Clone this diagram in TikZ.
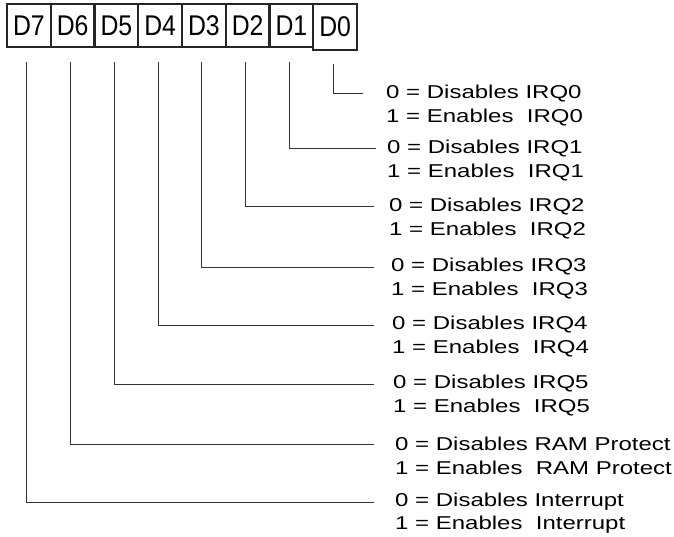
\documentclass[tikz,border=0pt]{standalone}
\usepackage{fontspec}
\setmainfont{Liberation Sans}
\newfontfamily\lblfont[FakeStretch=1.29]{Liberation Sans}
\newfontfamily\bitfont[FakeStretch=0.87]{Liberation Sans}
\usetikzlibrary{positioning}

\begin{document}
\begin{tikzpicture}[
  x=1pt, y=-1pt,
  bitbox/.style = {rectangle, draw=black!85, line width=2.4pt, inner sep=0pt, outer sep=0pt,
    minimum width=43.75pt, minimum height=43pt, font=\bitfont\fontsize{28.5}{28.5}\selectfont},
  lbl/.style    = {anchor=west, inner sep=0pt, font=\lblfont\fontsize{18.6}{22}\selectfont},
  wire/.style   = {draw=black!80, line width=1pt},
]
  \useasboundingbox (0,0) rectangle (674,537);

  % register bits
  \node[bitbox] (d7) at (28.9,25.5) {D7};
  \node[bitbox, right=0pt of d7] (d6) {D6};
  \node[bitbox, right=0pt of d6] (d5) {D5};
  \node[bitbox, right=0pt of d5] (d4) {D4};
  \node[bitbox, right=0pt of d4] (d3) {D3};
  \node[bitbox, right=0pt of d3] (d2) {D2};
  \node[bitbox, right=0pt of d2] (d1) {D1};
  \node[bitbox, minimum height=46pt, anchor=north west] (d0) at (d1.north east) {D0};

  % bit meanings
  \node[lbl] (off0) at (386,94)  {0 = Disables IRQ0};
  \node[lbl] (on0)  at (386,118) {1 = Enables\ \ IRQ0};
  \node[lbl] (off1) at (387,149) {0 = Disables IRQ1};
  \node[lbl] (on1)  at (387,173) {1 = Enables\ \ IRQ1};
  \node[lbl] (off2) at (389,207) {0 = Disables IRQ2};
  \node[lbl] (on2)  at (389,231) {1 = Enables\ \ IRQ2};
  \node[lbl] (off3) at (391,267) {0 = Disables IRQ3};
  \node[lbl] (on3)  at (391,291) {1 = Enables\ \ IRQ3};
  \node[lbl] (off4) at (392,325) {0 = Disables IRQ4};
  \node[lbl] (on4)  at (392,349) {1 = Enables\ \ IRQ4};
  \node[lbl] (off5) at (393,384) {0 = Disables IRQ5};
  \node[lbl] (on5)  at (393,408) {1 = Enables\ \ IRQ5};
  \node[lbl] (off6) at (395,444) {0 = Disables RAM Protect};
  \node[lbl] (on6)  at (395,468) {1 = Enables\ \ RAM Protect};
  \node[lbl] (off7) at (395,502) {0 = Disables Interrupt};
  \node[lbl] (on7)  at (395,525) {1 = Enables\ \ Interrupt};

  % leader lines
  \draw[wire] ([xshift=-2pt, yshift=-14pt]d0.south) |- ([xshift=-23pt]off0.west);
  \draw[wire] ([xshift=-2pt, yshift=-15pt]d1.south) |- ([xshift=-11pt]off1.west);
  \draw[wire] ([xshift=-2pt, yshift=-15pt]d2.south) |- ([xshift=-15pt]off2.west);
  \draw[wire] ([xshift=-2pt, yshift=-15pt]d3.south) |- ([xshift=-17pt]off3.west);
  \draw[wire] ([xshift=-2pt, yshift=-15pt]d4.south) |- ([xshift=-18pt]off4.west);
  \draw[wire] ([xshift=-2pt, yshift=-15pt]d5.south) |- ([xshift=-19pt]off5.west);
  \draw[wire] ([xshift=-2pt, yshift=-15pt]d6.south) |- ([xshift=-21pt]off6.west);
  \draw[wire] ([xshift=-2pt, yshift=-15pt]d7.south) |- ([xshift=-21pt]off7.west);
\end{tikzpicture}
\end{document}
